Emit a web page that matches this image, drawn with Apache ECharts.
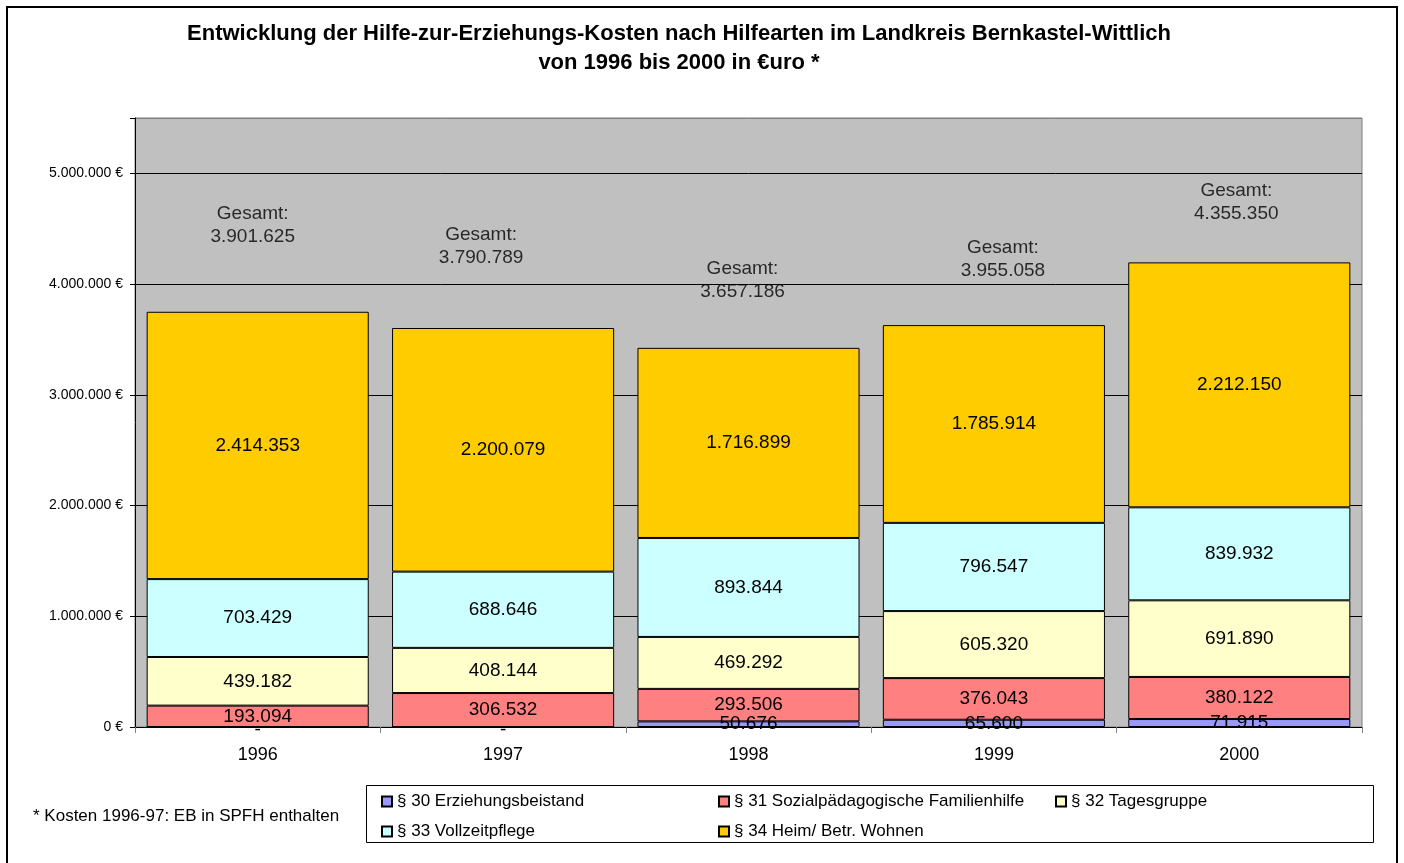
<!DOCTYPE html>
<html>
<head>
<meta charset="utf-8">
<title>Hilfe zur Erziehung - Kosten</title>
<script src="https://cdn.jsdelivr.net/npm/echarts@6/dist/echarts.min.js"></script>
<style>
  html, body { margin: 0; padding: 0; background: #fff; }
  #chart { width: 1404px; height: 863px; }
</style>
</head>
<body>
<div id="chart"></div>
<script>
// Daten (Euro)
const years = ['1996', '1997', '1998', '1999', '2000'];
const p30 = [0, 0, 50676, 65600, 71915];
const p31 = [193094, 306532, 293506, 376043, 380122];
const p32 = [439182, 408144, 469292, 605320, 691890];
const p33 = [703429, 688646, 893844, 796547, 839932];
const p34 = [2414353, 2200079, 1716899, 1785914, 2212150];
const gesamt = [3901625, 3790789, 3657186, 3955058, 4355350];
const yMax = 5500000;
const yStep = 1000000;

// shift (px) of the "Gesamt" labels, as they were placed by hand in the original
const gesamtShift = [[-5, -70], [-22, -61], [-6, -42], [9, -30], [-3, -42]];

const font = 'Liberation Sans, Arial, sans-serif';

function fmt(v) {
    return String(Math.round(v)).replace(/\B(?=(\d{3})+(?!\d))/g, '.');
}

function barSeries(name, data, color) {
    return {
        name: name,
        type: 'bar',
        stack: 'kosten',
        barCategoryGap: '9.5%',
        // zero values are shown as "-" just under the axis
        data: data.map((v) => v === 0 ? { value: 0, label: { offset: [0, 3] } } : v),
        itemStyle: { color: color, borderColor: '#000', borderWidth: 1 },
        label: {
            show: true,
            position: 'inside',
            color: '#000',
            fontFamily: font,
            fontSize: 19,
            formatter: (p) => p.value === 0 ? '-' : fmt(p.value)
        },
        emphasis: { disabled: true }
    };
}

const myChart = echarts.init(document.getElementById('chart'));

const option = {
    backgroundColor: '#fff',
    animation: false,
    title: {
        text: 'Entwicklung der Hilfe-zur-Erziehungs-Kosten nach Hilfearten im Landkreis Bernkastel-Wittlich\nvon 1996 bis 2000 in €uro *',
        left: 679,
        top: 19,
        textAlign: 'center',
        padding: 0,
        textStyle: { fontFamily: font, fontSize: 22, fontWeight: 'bold', color: '#000', lineHeight: 29 }
    },
    legend: {
        data: ['§ 30 Erziehungsbeistand', '§ 31 Sozialpädagogische Familienhilfe', '§ 32 Tagesgruppe',
               '§ 33 Vollzeitpflege', '§ 34 Heim/ Betr. Wohnen'],
        left: 381,
        top: 793,
        width: 1000,
        padding: 0,
        itemGap: 13,
        itemWidth: 10,
        itemHeight: 10,
        icon: 'rect',
        textStyle: { fontFamily: font, fontSize: 17, color: '#000', width: 308, lineHeight: 15 }
    },
    grid: {
        left: 135,
        right: 42,
        top: 118,
        bottom: 136,
        show: true,
        backgroundColor: '#C0C0C0',
        borderColor: '#808080',
        borderWidth: 1
    },
    xAxis: {
        type: 'category',
        data: years,
        axisLine: { lineStyle: { color: '#000', width: 1 } },
        axisTick: { show: true, length: 6, lineStyle: { color: '#808080' } },
        axisLabel: { color: '#000', fontFamily: font, fontSize: 18, margin: 19 }
    },
    yAxis: {
        type: 'value',
        min: 0,
        max: yMax,
        interval: yStep,
        axisLine: { show: true, lineStyle: { color: '#000', width: 1 } },
        axisTick: { show: true, length: 5, lineStyle: { color: '#000' } },
        axisLabel: {
            color: '#000',
            fontFamily: font,
            fontSize: 14,
            margin: 12,
            formatter: (v) => v % yStep === 0 ? fmt(v) + ' €' : ''
        },
        splitLine: {
            show: true,
            lineStyle: { color: ['#000', '#000', '#000', '#000', '#000', '#000', '#808080'], width: 1 }
        }
    },
    series: [
        barSeries('§ 30 Erziehungsbeistand', p30, '#9999FF'),
        barSeries('§ 31 Sozialpädagogische Familienhilfe', p31, '#FF8080'),
        barSeries('§ 32 Tagesgruppe', p32, '#FFFFCC'),
        barSeries('§ 33 Vollzeitpflege', p33, '#CCFFFF'),
        barSeries('§ 34 Heim/ Betr. Wohnen', p34, '#FFCC00'),
        {
            name: 'Gesamt',
            type: 'scatter',
            symbolSize: 0,
            silent: true,
            data: gesamt.map((v, i) => ({ value: v, label: { offset: gesamtShift[i] } })),
            label: {
                show: true,
                position: 'inside',
                color: '#000',
                fontFamily: font,
                fontSize: 19,
                lineHeight: 23,
                formatter: (p) => 'Gesamt:\n' + fmt(p.value)
            }
        }
    ],
    graphic: [
        {
            type: 'rect',
            shape: { x: 7, y: 7, width: 1390, height: 880 },
            style: { fill: 'none', stroke: '#000', lineWidth: 2 },
            silent: true
        },
        {
            type: 'rect',
            shape: { x: 366.5, y: 785.5, width: 1007, height: 57 },
            style: { fill: 'none', stroke: '#000', lineWidth: 1 },
            silent: true
        },
        {
            type: 'text',
            left: 33,
            top: 808,
            style: { text: '* Kosten 1996-97: EB in SPFH enthalten', fontFamily: font, fontSize: 17, fill: '#000' },
            silent: true
        }
    ]
};

myChart.setOption(option);
</script>
</body>
</html>
